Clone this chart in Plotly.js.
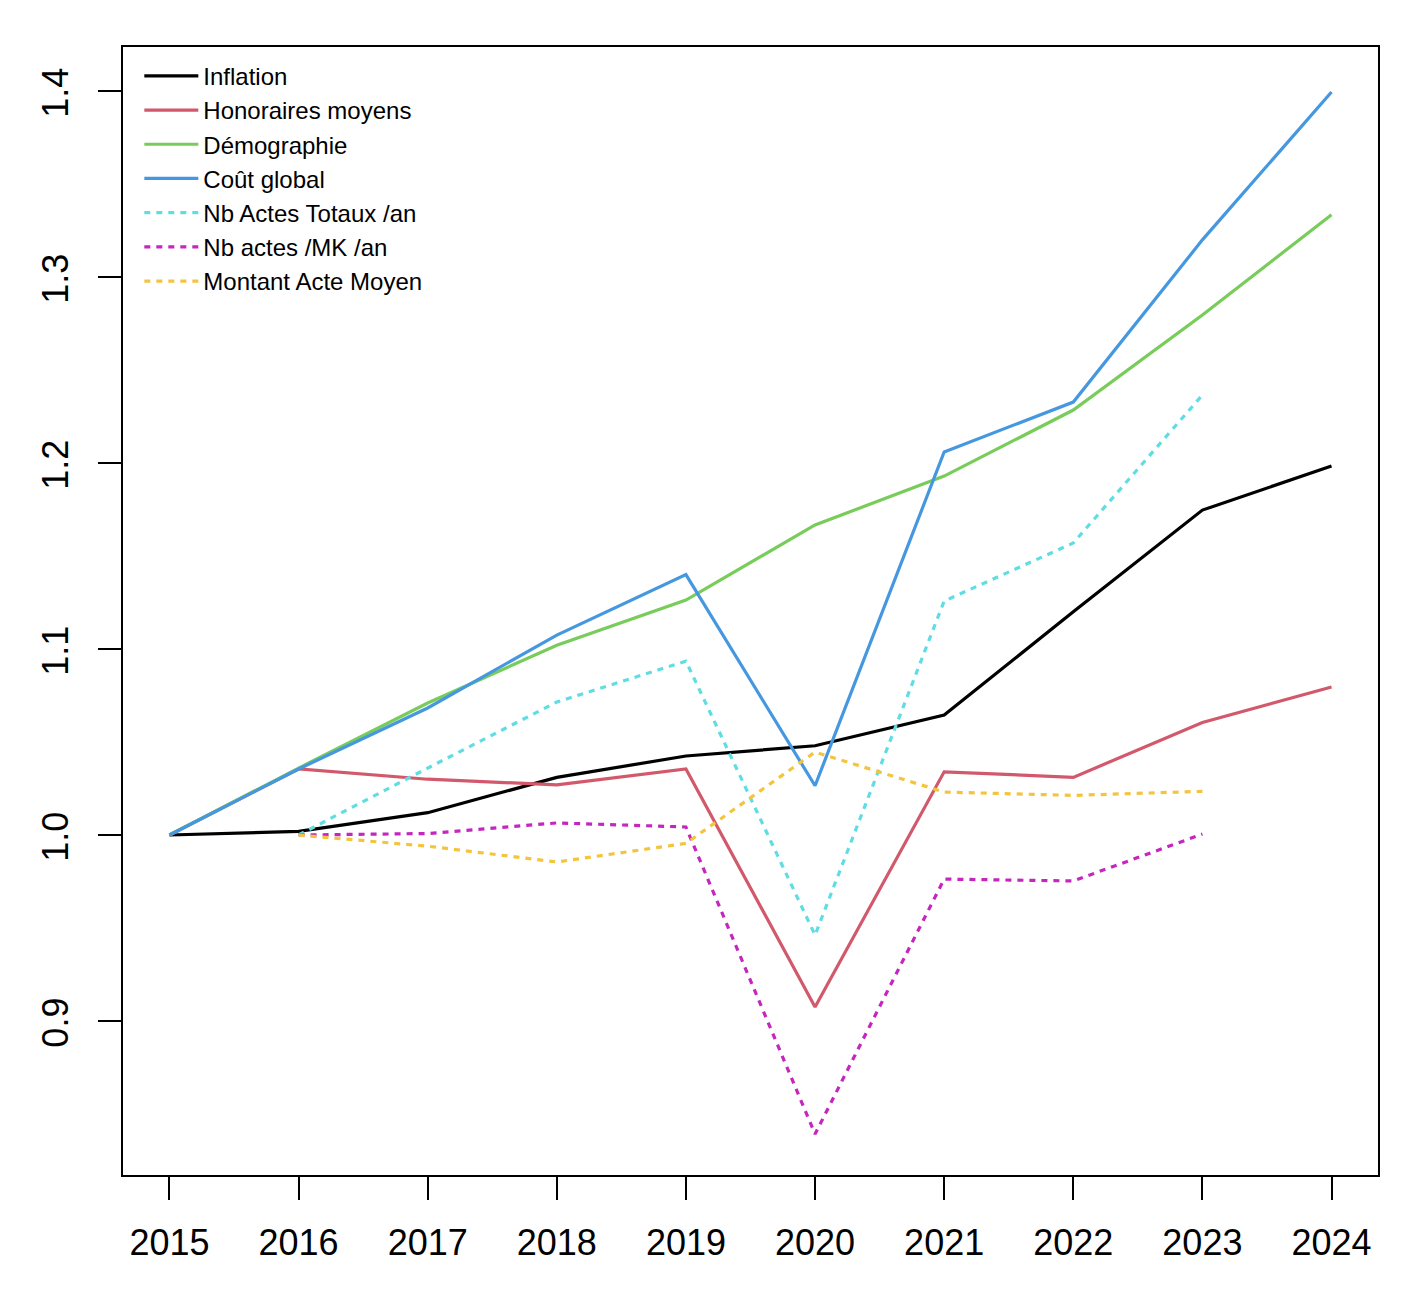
<!DOCTYPE html>
<html>
<head>
<meta charset="utf-8">
<script src="https://cdn.plot.ly/plotly-3.0.1.min.js"></script>
<style>
html,body{margin:0;padding:0;background:#fff;}
#chart{width:1420px;height:1304px;}
</style>
</head>
<body>
<div id="chart"></div>
<script>
const years = [2015, 2016, 2017, 2018, 2019, 2020, 2021, 2022, 2023, 2024];
const yearsPartial = [2016, 2017, 2018, 2019, 2020, 2021, 2022, 2023];

const inflation = [1.000, 1.002, 1.012, 1.031, 1.0425, 1.048, 1.0645, 1.120, 1.1747, 1.1984];
const honoraires = [1.000, 1.0355, 1.030, 1.027, 1.0355, 0.9075, 1.034, 1.031, 1.0605, 1.0796];
const demographie = [1.000, 1.036, 1.071, 1.102, 1.1263, 1.1667, 1.193, 1.2285, 1.2796, 1.3335];
const coutGlobal = [1.000, 1.0355, 1.0683, 1.1075, 1.140, 1.0265, 1.206, 1.2328, 1.320, 1.3995];
const nbActesTotaux = [1.000, 1.036, 1.0715, 1.0935, 0.9462, 1.1258, 1.157, 1.2366];
const nbActesMK = [1.000, 1.0008, 1.0065, 1.0043, 0.8392, 0.9763, 0.9753, 1.0005];
const montantActe = [1.000, 0.994, 0.9855, 0.9955, 1.0446, 1.0231, 1.0213, 1.0235];

const yTicks = [0.9, 1.0, 1.1, 1.2, 1.3, 1.4];
const yTickText = ["0.9", "1.0", "1.1", "1.2", "1.3", "1.4"];

const dotDash = "6px,6px";
function tr(x, y, name, color, dash) {
  return {
    x: x, y: y, name: name, type: "scatter", mode: "lines",
    line: {color: color, width: 3.2, dash: dash || "solid"}
  };
}

const data = [
  tr(years, inflation, "Inflation", "#000000"),
  tr(years, honoraires, "Honoraires moyens", "#D2596C"),
  tr(years, demographie, "Démographie", "#78CC5A"),
  tr(years, coutGlobal, "Coût global", "#4598E0"),
  tr(yearsPartial, nbActesTotaux, "Nb Actes Totaux /an", "#5EDDE3", dotDash),
  tr(yearsPartial, nbActesMK, "Nb actes /MK /an", "#C526BE", dotDash),
  tr(yearsPartial, montantActe, "Montant Acte Moyen", "#F3C53E", dotDash)
];

const font = "Liberation Sans, Arial, Helvetica, sans-serif";
const layout = {
  width: 1420, height: 1304,
  paper_bgcolor: "#ffffff", plot_bgcolor: "#ffffff",
  margin: {l: 123, r: 42, t: 47, b: 129},
  font: {family: font, color: "#000000"},
  showlegend: true,
  legend: {
    x: 0.013, y: 0.994, xanchor: "left", yanchor: "top",
    bgcolor: "rgba(0,0,0,0)", borderwidth: 0,
    font: {family: font, size: 24, color: "#000000"},
    tracegroupgap: 0, itemwidth: 54
  },
  xaxis: {
    range: [2014.64, 2024.36],
    tickmode: "array", tickvals: years, ticktext: years.map(String),
    showgrid: false, zeroline: false,
    showline: true, linecolor: "#000000", linewidth: 2, mirror: true,
    ticks: "outside", ticklen: 23, tickwidth: 2, tickcolor: "#000000",
    tickfont: {family: font, size: 36, color: "#000000"},
    ticklabelstandoff: 12
  },
  yaxis: {
    range: [0.8172, 1.4237],
    tickmode: "array", tickvals: yTicks, ticktext: yTickText,
    showgrid: false, zeroline: false,
    showline: true, linecolor: "#000000", linewidth: 2, mirror: true,
    ticks: "outside", ticklen: 23, tickwidth: 2, tickcolor: "#000000",
    tickangle: -90,
    tickfont: {family: font, size: 36, color: "#000000"},
    ticklabelstandoff: 16,
    ticklabelshift: 7
  }
};

Plotly.newPlot("chart", data, layout, {displayModeBar: false, staticPlot: true});
</script>
</body>
</html>
